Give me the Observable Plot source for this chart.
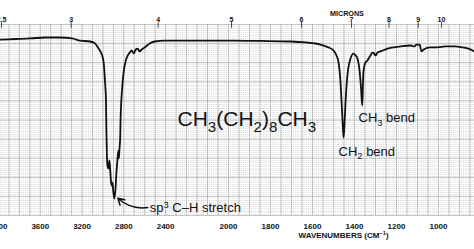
<!DOCTYPE html>
<html><head><meta charset="utf-8">
<script src="https://cdn.jsdelivr.net/npm/d3@7"></script>
<script src="https://cdn.jsdelivr.net/npm/@observablehq/plot@0.6"></script>
<style>
html,body{margin:0;padding:0;background:#fff;}
#chart{width:474px;height:249px;overflow:hidden;}
</style></head><body><div id="chart"></div>
<script>
// IR spectrum of decane
const wavenumber = [3981,3838,3695,3552,3410,3295,3219,3124,3076,3048,3019,3000,2990,2981,2971,2967,2962,2957,2948,2938,2929,2919,2910,2900,2890,2881,2871,2862,2852,2848,2840,2835,2831,2824,2814,2800,2781,2762,2743,2724,2705,2686,2667,2648,2629,2600,2552,2505,2410,2200,2086,1976,1848,1705,1633,1562,1524,1500,1486,1476,1467,1462,1457,1452,1448,1443,1436,1429,1419,1405,1395,1386,1376,1369,1363,1360,1357,1348,1338,1333,1324,1314,1310,1300,1290,1276,1243,1181,1133,1114,1105,1090,1086,1081,1071,1038,1005,967,924,886,857,829];
const transmittance = [92.1,92.4,92.7,93.2,93.2,92.7,91.6,91.1,90.1,88.0,85.3,82.2,78.5,70.7,60.2,44.5,31.4,26.2,24.6,28.8,22.5,15.7,17.3,12.0,8.9,13.1,22.5,28.8,34.0,29.8,36.1,40.3,50.8,60.2,68.1,75.9,81.2,83.8,85.3,86.4,84.8,86.9,87.4,85.9,86.9,88.0,90.1,91.1,91.6,91.6,91.6,91.6,91.4,91.1,90.6,89.5,88.0,86.4,83.8,80.1,70.7,60.2,49.7,40.8,47.1,58.6,70.7,77.5,82.2,84.8,83.8,82.2,75.9,67.0,57.6,68.1,75.9,80.1,81.2,82.2,83.8,85.3,85.3,83.8,85.3,85.9,87.4,88.5,89.0,88.5,89.5,89.5,88.0,85.9,86.9,88.0,88.0,88.5,88.5,88.0,87.4,85.9];
const wavenumberTicks = [4000,3600,3200,2800,2400,2000,1800,1600,1400,1200,1000];
const micronTicks = [2.5,3,4,5,6,7,8,9,10];
const micronLabels = ["2.5","3","4","5","6","7","8","9","10"];
const titleLabel = "CH_{3}(CH_{2})_{8}CH_{3}";
const bendLabels = ["CH_{3} bend","CH_{2} bend"];
const bendAt = [1381,1476];
const bendT = [48.7,31.4];
const stretchLabel = "sp^{3} C–H stretch";
const axisLabel = "WAVENUMBERS (CM^{−1})";
const topLabel = "MICRONS";

const spectrum = wavenumber.map((w,i)=>({w, t: transmittance[i]}));
const bends = bendLabels.map((s,i)=>({s, w: bendAt[i], t: bendT[i]}));

const majorX = [...d3.range(4000,2200,-100), ...d3.range(2200,799,-50)];
const minorX = [...d3.range(4000,2200,-20), ...d3.range(2200,799,-10)];
const majorY = d3.range(0,101,10);
const minorY = d3.range(0,101,2);

const font = "'Liberation Sans', Arial, Helvetica, sans-serif";

const plot = Plot.plot({
  width: 474, height: 249,
  marginTop: 24, marginBottom: 34, marginLeft: 0, marginRight: 0,
  style: {fontFamily: font, background: "white", color: "#111"},
  x: {type: "linear", domain: [4000,2200,1000], range: [-2,186,438]},
  y: {domain: [0,100], axis: null},
  marks: [
    Plot.ruleX(minorX, {x: d=>d, y1: 0, y2: 100, stroke: "#c4c4c4", strokeWidth: 0.6, strokeDasharray: "1,1"}),
    Plot.ruleY(minorY, {y: d=>d, x1: 4000, x2: 829, stroke: "#d0d0d0", strokeWidth: 0.5, strokeDasharray: "1,1.5"}),
    Plot.ruleX(majorX, {x: d=>d, y1: 0, y2: 100, stroke: "#aaaaaa", strokeWidth: 0.7}),
    Plot.ruleY(majorY, {y: d=>d, x1: 4000, x2: 829, stroke: "#b0b0b0", strokeWidth: 0.7}),
    Plot.axisX(wavenumberTicks, {anchor: "bottom", label: null, tickSize: 0, tickPadding: 8, fontSize: 8, fontWeight: "bold", tickFormat: d=>String(d)}),
    Plot.ruleX(micronTicks, {x: d=>10000/d, y1: 101, y2: 98, dx: 3, stroke: "#222", strokeWidth: 0.8}),
    Plot.text(micronTicks, {x: d=>10000/d, text: (d,i)=>micronLabels[i], frameAnchor: "top", lineAnchor: "bottom", dx: 3, dy: -2.3, fontSize: 7, fontWeight: "bold"}),
    Plot.text([topLabel], {x: 1436, frameAnchor: "top", lineAnchor: "bottom", dy: -9, fontSize: 7.2, fontWeight: "bold"}),
    Plot.text([axisLabel], {x: 1452, frameAnchor: "bottom", lineAnchor: "bottom", dy: 22.7, fontSize: 8, fontWeight: "bold"}),
    Plot.line(spectrum, {x: "w", y: "t", stroke: "#111", strokeWidth: 1.8, curve: "monotone-x"}),
    Plot.text([titleLabel], {x: 2286, y: 46.6, textAnchor: "start", lineAnchor: "bottom", fontSize: 21}),
    Plot.text(bends, {x: "w", y: "t", text: "s", textAnchor: "start", lineAnchor: "bottom", fontSize: 13}),
    Plot.text([stretchLabel], {x: 2552, y: 1.6, textAnchor: "start", lineAnchor: "bottom", fontSize: 13}),
    Plot.arrow([0], {x1: 2571, y1: 4.2, x2: 2857, y2: 9.0, bend: 25, headLength: 7, strokeWidth: 1.5, stroke: "#111"})
  ]
});
document.getElementById("chart").appendChild(plot);

// subscripts / superscripts written as _{..} and ^{..}
d3.select(plot).selectAll("text").each(function(){
  const t = this.textContent;
  if (!/[_^]\{/.test(t)) return;
  const fs = parseFloat(getComputedStyle(this).fontSize) || 10;
  const re = /([_^])\{([^}]*)\}/g;
  const parts = []; let last = 0, m;
  while ((m = re.exec(t))) {
    if (m.index > last) parts.push({s: t.slice(last, m.index), k: 0});
    parts.push({s: m[2], k: m[1] === "_" ? 1 : -1});
    last = re.lastIndex;
  }
  if (last < t.length) parts.push({s: t.slice(last), k: 0});
  this.textContent = "";
  let cur = 0;
  for (const p of parts) {
    const ts = document.createElementNS("http://www.w3.org/2000/svg","tspan");
    const shift = p.k === 1 ? 0.28*fs : p.k === -1 ? -0.38*fs : 0;
    if (shift - cur) ts.setAttribute("dy", (shift - cur) + "px");
    if (p.k) ts.setAttribute("font-size", (0.72*fs) + "px");
    cur = shift;
    ts.textContent = p.s;
    this.appendChild(ts);
  }
});
</script>
</body></html>
